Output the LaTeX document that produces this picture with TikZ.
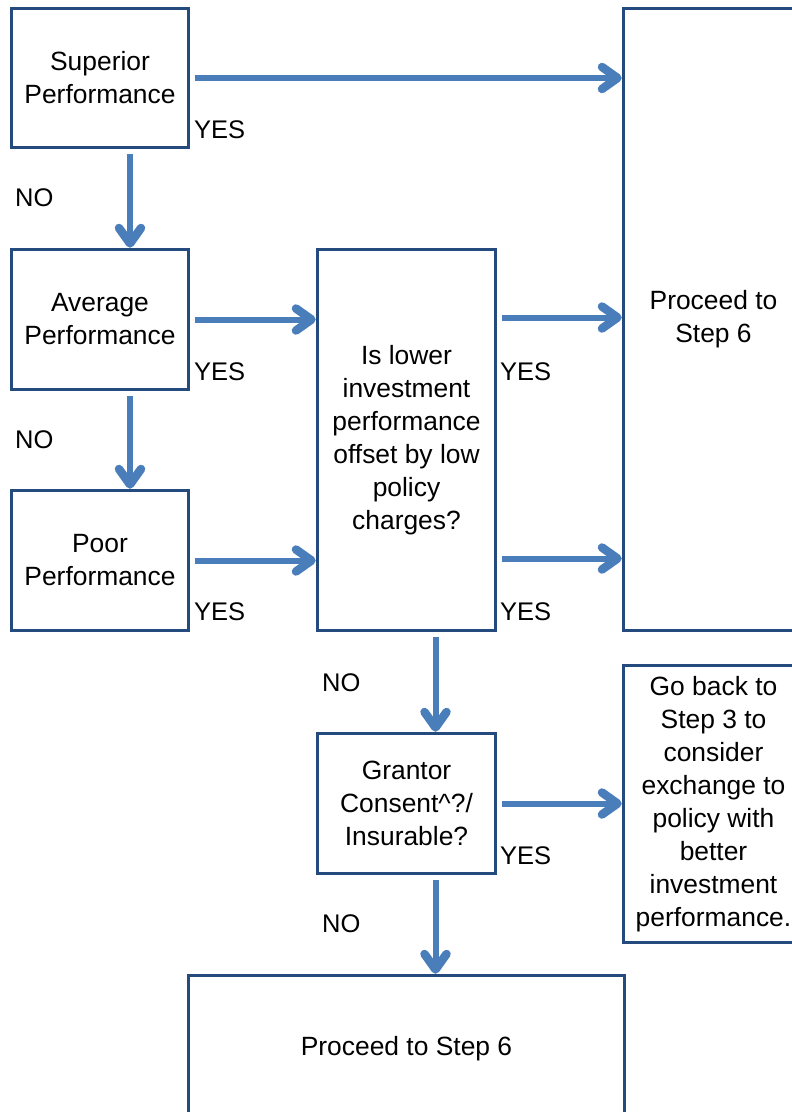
\documentclass[tikz,border=0pt]{standalone}
\usepackage{fontspec}
\setmainfont{Liberation Sans}
\usetikzlibrary{decorations.markings}
\definecolor{boxline}{RGB}{37,74,126}
\definecolor{flow}{RGB}{74,126,187}
\tikzset{
  stepbox/.style={draw=boxline, line width=3pt, inner sep=2pt, align=center,
    anchor=north west, font=\fontsize{26.4}{33}\selectfont},
  % thick shaft with an open chevron head at its end
  flowarrow/.style={draw=flow, line width=6pt, shorten <=5pt, shorten >=7pt,
    postaction={decorate, decoration={markings, mark=at position 1 with {
      \draw[flow, line width=8.5pt, line cap=round, line join=round,
            shorten <=0pt, shorten >=0pt]
        (-20pt,11pt) -- (-4.5pt,0pt) -- (-20pt,-11pt);}}}},
  answer/.style={anchor=west, inner sep=0pt, font=\fontsize{25.5}{30}\selectfont}
}
\begin{document}
\begin{tikzpicture}[x=1pt, y=-1pt]
\useasboundingbox (0,0) rectangle (792,1112);
\clip (0,0) rectangle (792,1112);

% decision boxes
\node[stepbox, minimum width=177pt, minimum height=139pt] (sup) at (10,7) {Superior\\Performance};
\node[stepbox, minimum width=177pt, minimum height=140pt] (avg) at (10,248) {Average\\Performance};
\node[stepbox, minimum width=177pt, minimum height=140pt] (poor) at (10,489) {Poor\\Performance};
\node[stepbox, minimum width=178pt, minimum height=381pt] (mid) at (316,248)
  {Is lower\\investment\\performance\\offset by low\\policy\\charges?};
\node[stepbox, minimum width=180pt, minimum height=622pt] (proc) at (622,7) {Proceed to\\Step 6};
\node[stepbox, minimum width=178pt, minimum height=140pt] (gran) at (316,732)
  {Grantor\\Consent\textasciicircum?/\\Insurable?};
\node[stepbox, minimum width=180pt, minimum height=277pt] (back) at (622,664)
  {Go back to\\Step 3 to\\consider\\exchange to\\policy with\\better\\investment\\performance.};
\node[stepbox, minimum width=436pt, minimum height=146pt] (fin) at (187,974) {Proceed to Step 6};

% YES branches
\draw[flowarrow] (sup.east) -- (sup.east -| proc.west);
\draw[flowarrow] (avg.east) -- (avg.east -| mid.west);
\draw[flowarrow] (poor.east) -- (poor.east -| mid.west);
\draw[flowarrow] ([yshift=2pt]mid.east |- avg.east) -- ([yshift=2pt]proc.west |- avg.east);
\draw[flowarrow] ([yshift=2pt]mid.east |- poor.east) -- ([yshift=2pt]proc.west |- poor.east);
\draw[flowarrow] (gran.east) -- (gran.east -| back.west);

% NO branches
\draw[flowarrow] ([xshift=30pt]sup.south) -- ([xshift=30pt]sup.south |- avg.north);
\draw[flowarrow] ([xshift=30pt]avg.south) -- ([xshift=30pt]avg.south |- poor.north);
\draw[flowarrow] ([xshift=29pt]mid.south) -- ([xshift=29pt]mid.south |- gran.north);
\draw[flowarrow] ([xshift=29pt]gran.south) -- ([xshift=29pt]gran.south |- fin.north);

% answer labels
\node[answer] (y1) at (194,130) {YES};
\node[answer] (y2) at (194,372) {YES};
\node[answer] (y3) at (194,612) {YES};
\node[answer] (y4) at (500,372) {YES};
\node[answer] (y5) at (500,612) {YES};
\node[answer] (y6) at (500,856) {YES};
\node[answer] (n1) at (15,198) {NO};
\node[answer] (n2) at (15,440) {NO};
\node[answer] (n3) at (322,683) {NO};
\node[answer] (n4) at (322,924) {NO};
\end{tikzpicture}
\end{document}
